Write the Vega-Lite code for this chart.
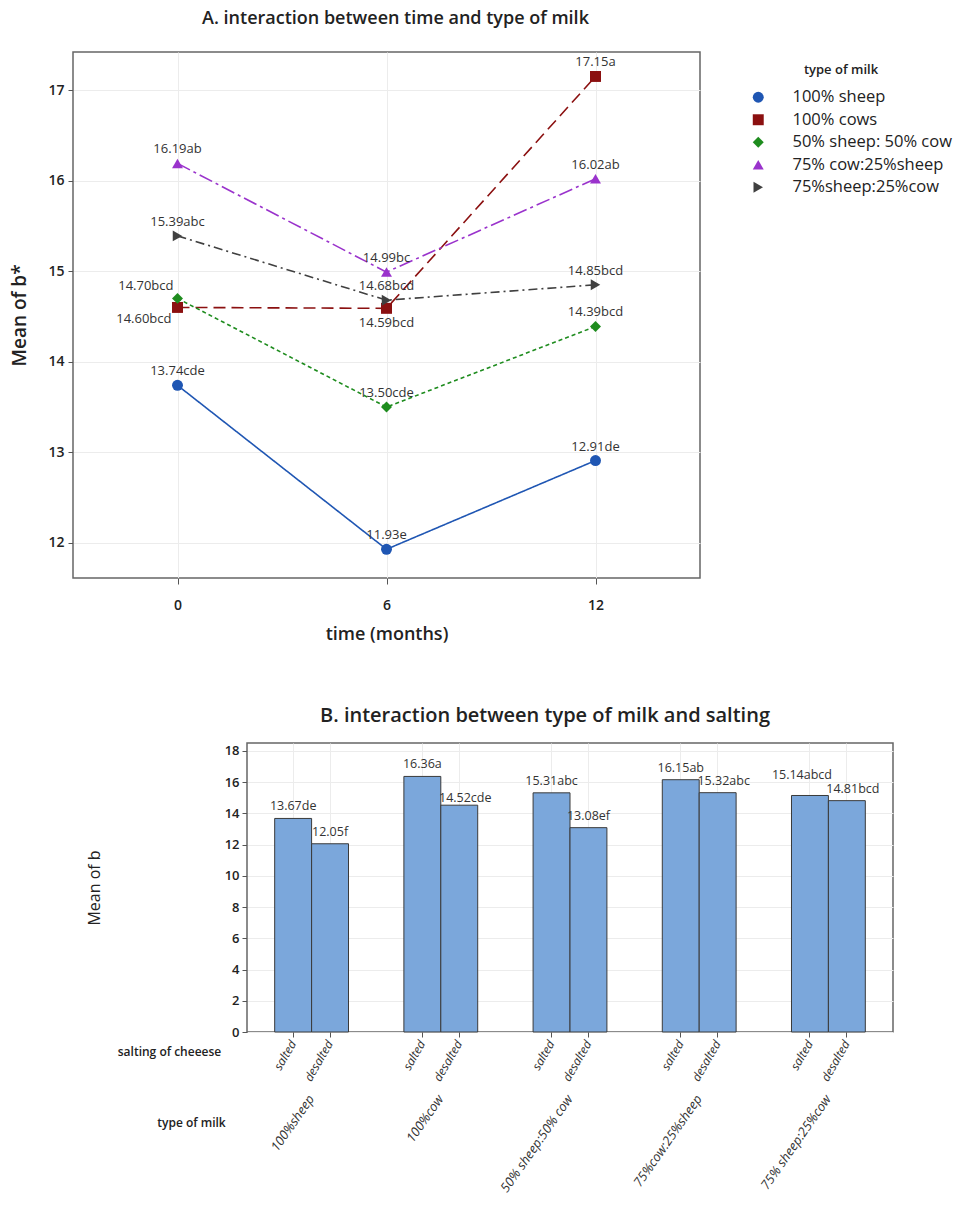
{
  "$schema": "https://vega.github.io/schema/vega-lite/v6.json",
  "background": "white",
  "padding": {"left": 10, "top": 9, "right": 5, "bottom": 5},
  "spacing": 61,
  "resolve": {"scale": {"color": "independent", "shape": "independent", "strokeDash": "independent"}, "legend": {"color": "independent", "shape": "independent"}},
  "config": {
    "font": "Open Sans",
    "view": {"stroke": "#666666", "strokeWidth": 1.5},
    "axis": {"gridColor": "#ececec", "domain": false, "tickColor": "#555555", "labelColor": "#222222", "titleColor": "#222222"},
    "legend": {"titleColor": "#222222", "labelColor": "#222222"}
  },
  "vconcat": [
    {
      "title": {"text": "A. interaction between time and type of milk", "fontSize": 18, "fontWeight": 600, "frame": "group", "anchor": "middle", "dx": 9, "offset": 24, "color": "#222222"},
      "width": 627,
      "height": 526,
      "data": {"values": [
        {"series": "100% sheep", "time": 0, "value": 13.74, "label": "13.74cde"},
        {"series": "100% sheep", "time": 6, "value": 11.93, "label": "11.93e"},
        {"series": "100% sheep", "time": 12, "value": 12.91, "label": "12.91de"},
        {"series": "100% cows", "time": 0, "value": 14.60, "label": "14.60bcd"},
        {"series": "100% cows", "time": 6, "value": 14.59, "label": "14.59bcd"},
        {"series": "100% cows", "time": 12, "value": 17.15, "label": "17.15a"},
        {"series": "50% sheep: 50% cow", "time": 0, "value": 14.70, "label": "14.70bcd"},
        {"series": "50% sheep: 50% cow", "time": 6, "value": 13.50, "label": "13.50cde"},
        {"series": "50% sheep: 50% cow", "time": 12, "value": 14.39, "label": "14.39bcd"},
        {"series": "75% cow:25%sheep", "time": 0, "value": 16.19, "label": "16.19ab"},
        {"series": "75% cow:25%sheep", "time": 6, "value": 14.99, "label": "14.99bc"},
        {"series": "75% cow:25%sheep", "time": 12, "value": 16.02, "label": "16.02ab"},
        {"series": "75%sheep:25%cow", "time": 0, "value": 15.39, "label": "15.39abc"},
        {"series": "75%sheep:25%cow", "time": 6, "value": 14.68, "label": "14.68bcd"},
        {"series": "75%sheep:25%cow", "time": 12, "value": 14.85, "label": "14.85bcd"}
      ]},
      "encoding": {
        "x": {"field": "time", "type": "quantitative",
          "scale": {"domain": [-3, 15], "nice": false, "zero": false},
          "axis": {"values": [0, 6, 12], "title": "time (months)", "titleFontSize": 18, "titleFontWeight": 600, "labelFontSize": 14, "labelFontWeight": 600, "tickSize": 6, "labelPadding": 14, "titlePadding": 13}},
        "y": {"field": "value", "type": "quantitative",
          "scale": {"domain": [11.613, 17.42], "nice": false, "zero": false},
          "axis": {"values": [12, 13, 14, 15, 16, 17], "title": "Mean of b*", "titleFontSize": 19, "titleFontWeight": 600, "labelFontSize": 14, "labelFontWeight": 600, "tickSize": 5, "labelPadding": 4, "titlePadding": 18}}
      },
      "layer": [
        {
          "mark": {"type": "line", "strokeWidth": 1.6},
          "encoding": {
            "color": {"field": "series", "type": "nominal",
              "scale": {"domain": ["100% sheep", "100% cows", "50% sheep: 50% cow", "75% cow:25%sheep", "75%sheep:25%cow"],
                        "range": ["#1f56b3", "#8b1010", "#1e8c1e", "#9a33cc", "#404040"]},
              "legend": {"title": "type of milk", "orient": "none", "direction": "vertical", "legendX": 657, "legendY": 12, "titleAnchor": "middle", "titleFontSize": 13, "titleFontWeight": 600, "labelFontSize": 16.5, "symbolSize": 120, "rowPadding": 5.5, "titlePadding": 12, "symbolStrokeWidth": 0, "symbolOffset": 20, "labelOffset": 26}},
            "strokeDash": {"field": "series", "type": "nominal",
              "scale": {"domain": ["100% sheep", "100% cows", "50% sheep: 50% cow", "75% cow:25%sheep", "75%sheep:25%cow"],
                        "range": [[1, 0], [12, 6], [4, 3], [14, 4, 3, 4], [9, 4, 2, 4]]},
              "legend": null}
          }
        },
        {
          "mark": {"type": "point", "filled": true, "size": 120, "opacity": 1},
          "encoding": {
            "color": {"field": "series", "type": "nominal"},
            "shape": {"field": "series", "type": "nominal",
              "scale": {"domain": ["100% sheep", "100% cows", "50% sheep: 50% cow", "75% cow:25%sheep", "75%sheep:25%cow"],
                        "range": ["circle", "square", "diamond", "triangle-up", "triangle-right"]}}
          }
        },
        {
          "transform": [{"filter": "datum.label !== '14.70bcd' && datum.label !== '14.60bcd' && datum.label !== '14.59bcd'"}],
          "mark": {"type": "text", "fontSize": 13, "color": "#333333", "baseline": "alphabetic", "dy": -10},
          "encoding": {"text": {"field": "label"}}
        },
        {
          "transform": [{"filter": "datum.label === '14.70bcd'"}],
          "mark": {"type": "text", "fontSize": 13, "color": "#333333", "baseline": "alphabetic", "align": "right", "dx": -4, "dy": -8},
          "encoding": {"text": {"field": "label"}}
        },
        {
          "transform": [{"filter": "datum.label === '14.60bcd'"}],
          "mark": {"type": "text", "fontSize": 13, "color": "#333333", "baseline": "top", "align": "right", "dx": -6, "dy": 6},
          "encoding": {"text": {"field": "label"}}
        },
        {
          "transform": [{"filter": "datum.label === '14.59bcd'"}],
          "mark": {"type": "text", "fontSize": 13, "color": "#333333", "baseline": "top", "dy": 9},
          "encoding": {"text": {"field": "label"}}
        }
      ]
    },
    {
      "spacing": 11,
      "hconcat": [
        {
          "width": 1,
          "height": 289,
          "view": {"stroke": null},
          "data": {"values": []},
          "mark": {"type": "point", "opacity": 0},
          "encoding": {}
        },
        {
          "title": {"text": "B. interaction between type of milk and salting", "fontSize": 20, "fontWeight": 600, "frame": "group", "anchor": "middle", "dx": -25, "offset": 17, "color": "#222222"},
          "width": 646,
          "height": 289,
          "data": {"values": [
            {"milk": "100%sheep", "salting": "salted", "key": "100%sheep|salted", "value": 13.67, "label": "13.67de"},
            {"milk": "100%sheep", "salting": "desalted", "key": "100%sheep|desalted", "value": 12.05, "label": "12.05f"},
            {"milk": "100%cow", "salting": "salted", "key": "100%cow|salted", "value": 16.36, "label": "16.36a"},
            {"milk": "100%cow", "salting": "desalted", "key": "100%cow|desalted", "value": 14.52, "label": "14.52cde"},
            {"milk": "50% sheep:50% cow", "salting": "salted", "key": "50% sheep:50% cow|salted", "value": 15.31, "label": "15.31abc"},
            {"milk": "50% sheep:50% cow", "salting": "desalted", "key": "50% sheep:50% cow|desalted", "value": 13.08, "label": "13.08ef"},
            {"milk": "75%cow:25%sheep", "salting": "salted", "key": "75%cow:25%sheep|salted", "value": 16.15, "label": "16.15ab"},
            {"milk": "75%cow:25%sheep", "salting": "desalted", "key": "75%cow:25%sheep|desalted", "value": 15.32, "label": "15.32abc"},
            {"milk": "75% sheep:25%cow", "salting": "salted", "key": "75% sheep:25%cow|salted", "value": 15.14, "label": "15.14abcd"},
            {"milk": "75% sheep:25%cow", "salting": "desalted", "key": "75% sheep:25%cow|desalted", "value": 14.81, "label": "14.81bcd"}
          ]},
          "encoding": {
            "y": {"field": "value", "type": "quantitative",
              "scale": {"domain": [0, 18.5], "nice": false},
              "axis": {"values": [0, 2, 4, 6, 8, 10, 12, 14, 16, 18], "title": "Mean of b", "titleFontSize": 16, "titleFontWeight": 400, "labelFontSize": 13, "labelFontWeight": 600, "tickSize": 5, "labelPadding": 3, "titlePadding": 122}}
          },
          "layer": [
            {
              "encoding": {
                "x": {"field": "key", "type": "nominal",
                  "scale": {"domain": ["s0", "s1", "100%sheep|salted", "m1", "100%sheep|desalted", "s2", "s3", "s4", "s5", "100%cow|salted", "m2", "100%cow|desalted", "s6", "s7", "s8", "s9", "50% sheep:50% cow|salted", "m3", "50% sheep:50% cow|desalted", "s10", "s11", "s12", "s13", "75%cow:25%sheep|salted", "m4", "75%cow:25%sheep|desalted", "s14", "s15", "s16", "s17", "75% sheep:25%cow|salted", "m5", "75% sheep:25%cow|desalted", "s18", "s19"], "paddingInner": 0, "paddingOuter": 0},
                  "axis": {"values": ["100%sheep|salted", "100%sheep|desalted", "100%cow|salted", "100%cow|desalted", "50% sheep:50% cow|salted", "50% sheep:50% cow|desalted", "75%cow:25%sheep|salted", "75%cow:25%sheep|desalted", "75% sheep:25%cow|salted", "75% sheep:25%cow|desalted"],
                    "labelExpr": "split(datum.value, '|')[1]", "labelAngle": -60, "labelAlign": "right", "labelBaseline": "middle", "labelFontStyle": "italic", "labelFontSize": 12, "labelColor": "#333333", "tickSize": 5, "labelPadding": 4, "grid": true,
                    "title": "salting of cheeese", "titleX": -78, "titleY": 19, "titleAlign": "center", "titleBaseline": "middle", "titleAngle": 0, "titleFontSize": 12, "titleFontWeight": 600}}
              },
              "layer": [
                {"mark": {"type": "bar", "width": {"band": 2}, "fill": "#7ba7db", "stroke": "#3a3a3a", "strokeWidth": 1}},
                {
                  "transform": [{"filter": "datum.label !== '15.14abcd' && datum.label !== '14.81bcd' && datum.label !== '14.52cde' && datum.label !== '15.32abc'"}],
                  "mark": {"type": "text", "fontSize": 12.5, "color": "#333333", "baseline": "alphabetic", "dy": -8},
                  "encoding": {"text": {"field": "label"}}
                },
                {
                  "transform": [{"filter": "datum.label === '15.14abcd'"}],
                  "mark": {"type": "text", "fontSize": 12.5, "color": "#333333", "baseline": "alphabetic", "dx": -8, "dy": -16},
                  "encoding": {"text": {"field": "label"}}
                },
                {
                  "transform": [{"filter": "datum.label === '14.81bcd' || datum.label === '15.32abc'"}],
                  "mark": {"type": "text", "fontSize": 12.5, "color": "#333333", "baseline": "alphabetic", "dx": 6, "dy": -8},
                  "encoding": {"text": {"field": "label"}}
                },
                {
                  "transform": [{"filter": "datum.label === '14.52cde'"}],
                  "mark": {"type": "text", "fontSize": 12.5, "color": "#333333", "baseline": "alphabetic", "dx": 6, "dy": -3},
                  "encoding": {"text": {"field": "label"}}
                }
              ]
            },
            {
              "mark": {"type": "tick", "opacity": 0},
              "encoding": {
                "x": {"field": "milk", "type": "nominal",
                  "scale": {"domain": ["z0", "z1", "z2", "100%sheep", "z4", "z5", "z6", "z7", "z8", "z9", "100%cow", "z11", "z12", "z13", "z14", "z15", "z16", "50% sheep:50% cow", "z18", "z19", "z20", "z21", "z22", "z23", "75%cow:25%sheep", "z25", "z26", "z27", "z28", "z29", "z30", "75% sheep:25%cow", "z32", "z33", "z34"], "paddingInner": 0, "paddingOuter": 0},
                  "axis": {"orient": "bottom", "offset": 62, "values": ["100%sheep", "100%cow", "50% sheep:50% cow", "75%cow:25%sheep", "75% sheep:25%cow"],
                    "labelAngle": -55, "labelAlign": "right", "labelBaseline": "middle", "labelFontStyle": "italic", "labelFontSize": 13, "labelColor": "#333333", "ticks": false, "grid": false, "domain": false, "labelPadding": 2,
                    "title": "type of milk", "titleX": -56, "titleY": 28, "titleAlign": "center", "titleBaseline": "middle", "titleAngle": 0, "titleFontSize": 12, "titleFontWeight": 600}}
              }
            }
          ],
          "resolve": {"scale": {"x": "independent"}, "axis": {"x": "independent"}}
        }
      ]
    }
  ]
}
